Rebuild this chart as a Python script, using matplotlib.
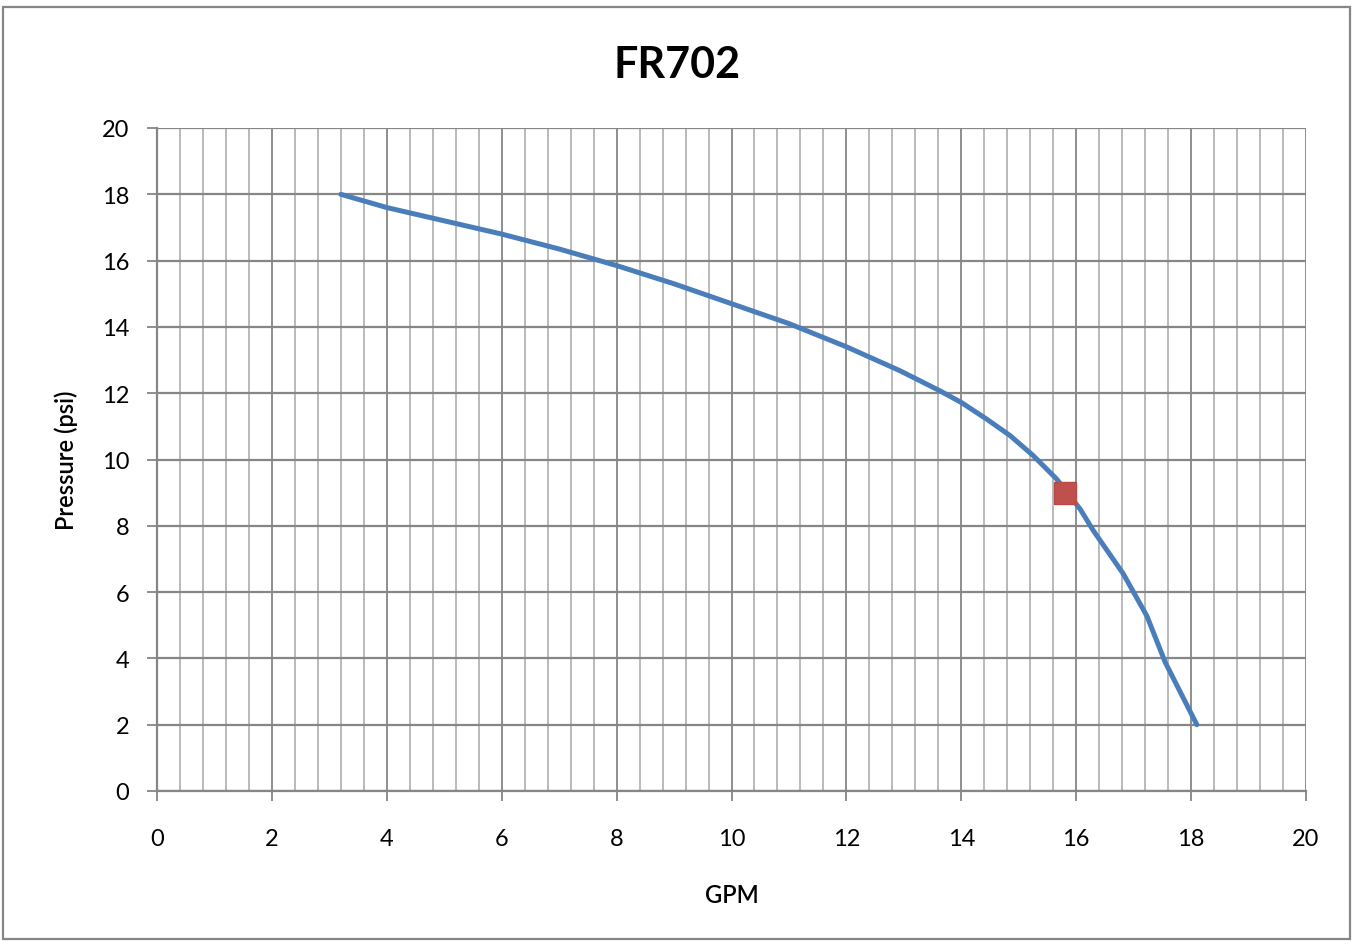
import numpy as np
import matplotlib.pyplot as plt
from matplotlib.patches import Rectangle
from matplotlib.ticker import MultipleLocator

# --- data ---
gpm = [3.2, 4.0, 5.0, 6.0, 7.0, 8.0, 9.0, 10.0, 11.0, 12.0, 12.93, 13.63,
       14.0, 14.44, 14.85, 15.25, 15.66, 16.07, 16.3, 16.82, 17.23, 17.55, 18.1]
psi = [18.0, 17.6, 17.2, 16.8, 16.35, 15.85, 15.3, 14.7, 14.1, 13.4, 12.68, 12.07,
       11.72, 11.22, 10.72, 10.12, 9.41, 8.5, 7.85, 6.55, 5.28, 3.88, 2.0]
point_gpm = [15.8]
point_psi = [9.0]

plt.rcParams['font.family'] = ['Lato', 'DejaVu Sans']

fig = plt.figure(figsize=(13.54, 9.45), dpi=100)
ax = fig.add_axes([157/1354, 1 - 792/945, (1306 - 157)/1354, (792 - 129)/945])

ax.set_xlim(0, 20)
ax.set_ylim(0, 20)
ax.xaxis.set_major_locator(MultipleLocator(2))
ax.xaxis.set_minor_locator(MultipleLocator(0.4))
ax.yaxis.set_major_locator(MultipleLocator(2))

ax.grid(which='minor', axis='x', color='#b4b4b4', lw=1.3)
ax.grid(which='major', axis='x', color='#868686', lw=1.3)
ax.grid(which='major', axis='y', color='#868686', lw=1.6)
ax.set_axisbelow(True)

for s in ['top', 'right']:
    ax.spines[s].set_visible(False)
for s in ['left', 'bottom']:
    ax.spines[s].set_color('#868686')
    ax.spines[s].set_linewidth(1.6)

ax.tick_params(which='major', length=7, width=1.3, color='#868686',
               labelsize=17)
ax.tick_params(which='minor', length=0)
ax.tick_params(axis='x', pad=20)
ax.tick_params(axis='y', pad=13)

ax.plot(gpm, psi, color='#4a7ebb', lw=3.6, solid_capstyle='round', zorder=3)
ax.plot(point_gpm, point_psi, marker='s', ls='none', ms=16.5,
        color='#c0504d', mec='#b84a47', zorder=4)

ax.set_xlabel('GPM', fontsize=17, fontweight='semibold', labelpad=24)
ax.set_ylabel('Pressure (psi)', fontsize=17, fontweight='semibold', labelpad=17)
fig.text(0.5, 1 - 65/945, 'FR702', ha='center', va='center',
         fontsize=31, fontweight='bold')

fig.patches.append(Rectangle((3/1354, 1 - 940/945), 1347/1354, 932/945,
                             transform=fig.transFigure, fill=False,
                             edgecolor='#868686', lw=1.6))

fig.savefig('out.png', dpi=100)
